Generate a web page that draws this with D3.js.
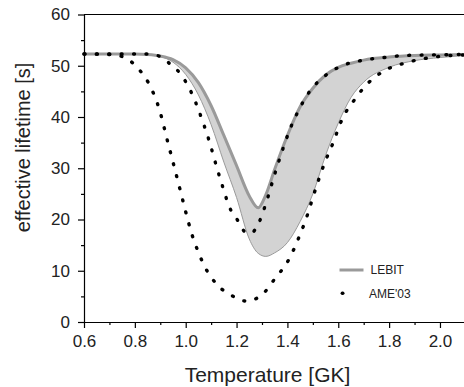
<!DOCTYPE html>
<html>
<head>
<meta charset="utf-8">
<script src="https://cdn.jsdelivr.net/npm/d3@7"></script>
<style>
  body { margin: 0; background: #fff; }
  svg { display: block; font-family: "Liberation Sans", Arial, sans-serif; }
</style>
</head>
<body>
<svg id="chart" width="464" height="387"></svg>
<script>
// LEBIT band (upper thick line, lower thin line), shared temperature grid
const lebitTemps = [0.6, 0.7, 0.8, 0.85, 0.9, 0.95, 1.0, 1.05, 1.1, 1.15, 1.2, 1.25, 1.285,
  1.315, 1.35, 1.4, 1.45, 1.5, 1.55, 1.6, 1.65, 1.7, 1.8, 1.9, 2.0, 2.1];
const lebitUpper = [52.3, 52.3, 52.3, 52.2, 51.9, 51.2, 49.6, 46.7, 42.2, 36.4, 30.5, 24.6, 22.3,
  24.8, 29.8, 36.4, 42.0, 45.6, 48.2, 49.7, 50.5, 51.1, 51.7, 52.0, 52.1, 52.2];
const lebitLower = [52.3, 52.3, 52.3, 52.2, 51.8, 50.7, 48.3, 44.3, 38.5, 31.2, 24.3, 16.2, 13.4,
  12.8, 13.5, 15.5, 19.6, 25.0, 32.5, 38.8, 43.8, 46.8, 49.7, 51.0, 51.6, 52.0];

// AME'03 dotted curves
const ameLowTemps = [0.6, 0.7, 0.744, 0.78, 0.816, 0.853, 0.895, 0.93, 0.95, 0.98, 1.0, 1.025, 1.05,
  1.075, 1.125, 1.18, 1.235, 1.29, 1.35, 1.41, 1.44, 1.48, 1.5, 1.55, 1.575, 1.62, 1.66, 1.7,
  1.78, 1.86, 1.95, 2.04, 2.1];
const ameLow = [52.3, 52.2, 51.9, 51.0, 49.3, 46.7, 41.7, 35.0, 31.2, 25.4, 21.5, 17.0, 13.6,
  10.8, 7.2, 5.2, 4.1, 4.9, 8.4, 12.6, 15.9, 21.1, 24.3, 31.5, 34.4, 40.1, 43.1, 45.7,
  49.0, 50.5, 51.5, 52.0, 52.1];
const ameHighTemps = [0.6, 0.85, 0.9, 0.935, 0.978, 1.023, 1.072, 1.092, 1.122, 1.141, 1.174, 1.205,
  1.233, 1.255, 1.288, 1.312, 1.351, 1.371, 1.414, 1.443, 1.482, 1.552, 1.62, 1.7, 1.78, 1.86,
  1.95, 2.1];
const ameHigh = [52.3, 52.3, 51.8, 50.5, 48.5, 44.7, 38.4, 35.4, 30.2, 27.1, 22.2, 19.8,
  17.6, 17.3, 19.4, 22.6, 29.0, 32.1, 38.1, 41.2, 44.6, 48.2, 50.1, 51.1, 51.6, 52.0,
  52.1, 52.2];

const xMajor = [0.6, 0.8, 1.0, 1.2, 1.4, 1.6, 1.8, 2.0];
const xMinor = [0.7, 0.9, 1.1, 1.3, 1.5, 1.7, 1.9];
const yMajor = [0, 10, 20, 30, 40, 50, 60];
const yMinor = [5, 15, 25, 35, 45, 55];

const svg = d3.select('#chart');
const plotLeft = 84, plotTop = 14.5, plotBottom = 322, plotRight = 465.4;

const x = d3.scaleLinear().domain([0.6, 2.1]).range([plotLeft, plotRight]);
const y = d3.scaleLinear().domain([0, 60]).range([plotBottom, plotTop]);

const upperPts = lebitTemps.map((t, i) => [t, lebitUpper[i]]);
const lowerPts = lebitTemps.map((t, i) => [t, lebitLower[i]]);

// band fill
const area = d3.area()
  .x(d => x(d[0]))
  .y0(d => y(d[2]))
  .y1(d => y(d[1]))
  .curve(d3.curveMonotoneX);
svg.append('path')
  .datum(lebitTemps.map((t, i) => [t, lebitUpper[i], lebitLower[i]]))
  .attr('d', area)
  .attr('fill', '#d3d3d3');

const line = d3.line()
  .x(d => x(d[0]))
  .y(d => y(d[1]))
  .curve(d3.curveMonotoneX);

svg.append('path').datum(lowerPts).attr('d', line)
  .attr('fill', 'none').attr('stroke', '#9a9a9a').attr('stroke-width', 1);
svg.append('path').datum(upperPts).attr('d', line)
  .attr('fill', 'none').attr('stroke', '#9a9a9a').attr('stroke-width', 3);

// dotted AME'03 curves
[[ameLowTemps, ameLow], [ameHighTemps, ameHigh]].forEach(([ts, vs]) => {
  svg.append('path')
    .datum(ts.map((t, i) => [t, vs[i]]))
    .attr('d', line)
    .attr('fill', 'none')
    .attr('stroke', '#000')
    .attr('stroke-width', 3.4)
    .attr('stroke-linecap', 'round')
    .attr('stroke-dasharray', '0.9 11.5');
});

// axes
const fmtX = d3.format('.1f');
const gx = svg.append('g').attr('transform', 'translate(0,' + plotBottom + ')');
gx.call(d3.axisBottom(x).tickValues(xMajor).tickFormat(fmtX).tickSize(6).tickSizeOuter(0).tickPadding(7));
gx.append('g').call(d3.axisBottom(x).tickValues(xMinor).tickFormat('').tickSize(3).tickSizeOuter(0))
  .select('.domain').remove();

const gy = svg.append('g').attr('transform', 'translate(' + plotLeft + ',0)');
gy.call(d3.axisLeft(y).tickValues(yMajor).tickSize(6).tickSizeOuter(0).tickPadding(8));
gy.append('g').call(d3.axisLeft(y).tickValues(yMinor).tickFormat('').tickSize(3).tickSizeOuter(0))
  .select('.domain').remove();

svg.selectAll('.tick text').attr('font-size', 17).attr('fill', '#222').attr('font-family', null);
svg.selectAll('.domain, .tick line').attr('stroke', '#000').attr('stroke-width', 1.2);

// top frame
svg.append('line')
  .attr('x1', plotLeft).attr('x2', 464)
  .attr('y1', y(60)).attr('y2', y(60))
  .attr('stroke', '#000').attr('stroke-width', 1.2);

// axis titles
svg.append('text')
  .attr('x', 267.5).attr('y', 381.5)
  .attr('text-anchor', 'middle')
  .attr('font-size', 21).attr('fill', '#222')
  .text('Temperature [GK]');
svg.append('text')
  .attr('transform', 'translate(29.5,147.5) rotate(-90)')
  .attr('text-anchor', 'middle')
  .attr('font-size', 20).attr('fill', '#222')
  .text('effective lifetime [s]');

// legend
const leg = svg.append('g');
leg.append('line')
  .attr('x1', 339.5).attr('x2', 363.5).attr('y1', 270).attr('y2', 270)
  .attr('stroke', '#9a9a9a').attr('stroke-width', 3);
leg.append('text').attr('x', 370.5).attr('y', 273.5).attr('font-size', 12).attr('fill', '#222').text('LEBIT');
leg.append('line')
  .attr('x1', 342.3).attr('x2', 358.3).attr('y1', 293.3).attr('y2', 293.3)
  .attr('stroke', '#000').attr('stroke-width', 3.4)
  .attr('stroke-linecap', 'round').attr('stroke-dasharray', '0.5 15.5');
leg.append('text').attr('x', 369).attr('y', 297.7).attr('font-size', 12).attr('fill', '#222').text("AME'03");
</script>
</body>
</html>
